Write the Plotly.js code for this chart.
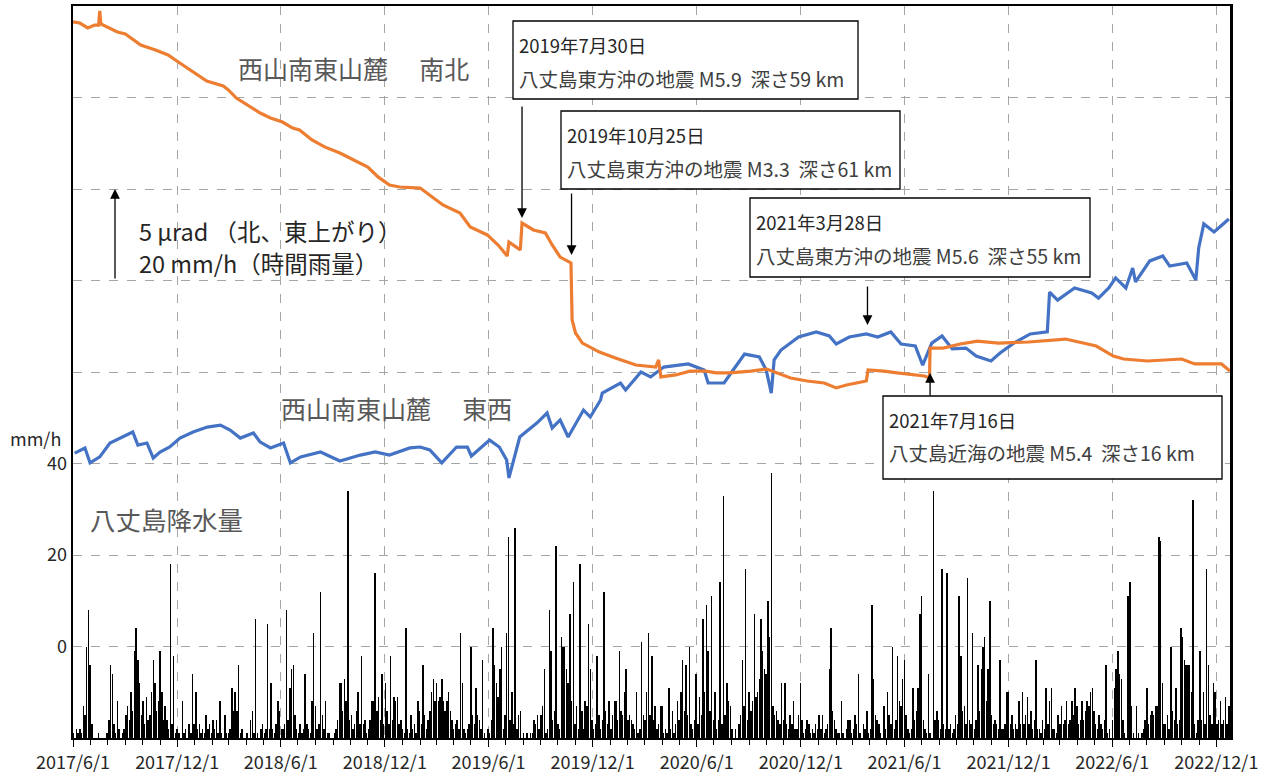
<!DOCTYPE html>
<html>
<head>
<meta charset="utf-8">
<script src="https://cdn.plot.ly/plotly-3.0.1.min.js"></script>
<style>
html,body{margin:0;padding:0;background:#fff;}
#chart{width:1268px;height:778px;}
</style>
</head>
<body>
<div id="chart"></div>
<script>
// ---- Tilt, NS component (µrad, relative) ----
const nsDates = ['2017-06-01','2017-06-13','2017-06-27','2017-07-09','2017-07-16','2017-07-18','2017-07-20','2017-08-18','2017-09-01','2017-09-28','2017-10-24','2017-11-15','2017-12-03','2017-12-25','2018-01-22','2018-02-20','2018-03-01','2018-03-15','2018-04-08','2018-04-26','2018-05-14','2018-06-04','2018-06-22','2018-07-04','2018-07-26','2018-08-17','2018-09-13','2018-10-09','2018-11-01','2018-11-19','2018-12-09','2018-12-27','2019-02-01','2019-03-13','2019-04-12','2019-04-30','2019-05-30','2019-06-18','2019-07-04','2019-07-07','2019-07-27','2019-07-30','2019-08-19','2019-09-09','2019-09-21','2019-10-05','2019-10-24','2019-10-26','2019-11-01','2019-11-13','2019-12-13','2020-01-10','2020-02-15','2020-03-21','2020-03-26','2020-03-30','2020-04-25','2020-05-20','2020-06-17','2020-07-05','2020-07-29','2020-09-04','2020-10-02','2020-11-13','2020-12-12','2021-01-11','2021-02-01','2021-02-19','2021-03-26','2021-03-29','2021-04-26','2021-05-19','2021-07-06','2021-07-15','2021-07-16','2021-08-08','2021-09-07','2021-10-07','2021-11-13','2022-01-05','2022-03-11','2022-05-04','2022-06-03','2022-06-21','2022-08-02','2022-10-01','2022-10-24','2022-12-10','2022-12-25'];
const nsTilt = [39.13,39.07,38.80,38.96,38.96,39.73,39.02,38.58,38.47,37.87,37.60,37.32,36.94,36.50,35.90,35.63,35.41,34.97,34.48,34.15,33.88,33.66,33.33,33.22,32.68,32.30,31.97,31.58,31.20,30.66,30.22,30.11,30.05,29.13,28.69,27.92,27.49,26.94,26.34,27.10,26.67,28.14,27.76,27.60,26.94,26.28,25.96,22.84,22.13,21.58,21.09,20.77,20.38,20.27,20.66,19.73,19.84,20.05,20.05,19.95,19.95,20.05,20.16,19.67,19.51,19.40,19.13,19.29,19.51,20.11,20.05,19.95,19.78,19.67,21.31,21.31,21.53,21.69,21.58,21.64,21.80,21.42,20.87,20.71,20.60,20.71,20.44,20.44,20.05];

// ---- Tilt, EW component (µrad, relative) ----
const ewDates = ['2017-06-04','2017-06-22','2017-07-01','2017-07-18','2017-08-05','2017-08-23','2017-09-14','2017-09-23','2017-10-09','2017-10-20','2017-11-01','2017-11-18','2017-12-06','2017-12-29','2018-01-23','2018-02-15','2018-03-04','2018-03-22','2018-04-14','2018-04-26','2018-05-14','2018-06-06','2018-06-18','2018-07-06','2018-08-10','2018-09-13','2018-10-19','2018-11-14','2018-12-09','2019-01-14','2019-02-01','2019-02-18','2019-03-11','2019-04-06','2019-04-25','2019-05-02','2019-06-03','2019-06-20','2019-07-03','2019-07-07','2019-07-14','2019-07-26','2019-08-25','2019-09-12','2019-09-21','2019-10-05','2019-10-19','2019-11-15','2019-11-27','2019-12-15','2019-12-18','2020-01-19','2020-01-28','2020-02-24','2020-03-12','2020-04-04','2020-05-17','2020-06-14','2020-06-21','2020-07-19','2020-08-04','2020-08-24','2020-09-19','2020-10-01','2020-10-10','2020-10-15','2020-10-27','2020-11-27','2020-12-28','2021-01-20','2021-02-01','2021-02-24','2021-03-26','2021-04-15','2021-05-08','2021-05-26','2021-06-20','2021-07-03','2021-07-19','2021-08-06','2021-08-24','2021-09-17','2021-10-05','2021-10-31','2021-11-16','2021-12-10','2022-01-08','2022-02-07','2022-02-11','2022-02-25','2022-03-27','2022-04-26','2022-05-08','2022-05-26','2022-06-07','2022-06-25','2022-07-07','2022-07-12','2022-08-06','2022-08-29','2022-09-10','2022-10-10','2022-10-26','2022-10-31','2022-11-09','2022-11-27','2022-12-09','2022-12-23'];
const ewTilt = [15.57,15.85,15.03,15.36,16.12,16.39,16.72,16.01,16.12,15.30,15.63,15.90,16.39,16.72,16.99,17.10,16.83,16.39,16.67,16.17,15.85,16.12,15.03,15.36,15.63,15.14,15.46,15.63,15.46,15.85,15.90,15.74,15.03,15.90,15.90,15.41,16.28,15.90,15.19,14.21,15.03,16.45,17.21,17.76,16.94,17.38,16.45,17.92,17.54,18.47,18.85,19.40,19.02,20.00,19.73,20.27,20.44,20.11,19.40,19.40,20.11,20.98,20.82,20.11,18.85,20.66,21.20,21.91,22.19,21.97,21.53,21.91,22.08,21.91,22.19,21.53,21.42,20.38,21.58,21.97,21.26,21.31,20.87,20.60,21.04,21.58,22.08,22.19,24.37,23.93,24.59,24.32,24.04,24.59,25.14,24.59,25.68,24.92,26.07,26.34,25.79,25.96,25.03,26.78,28.09,27.65,27.98,28.36];

// ---- Hachijojima hourly rainfall peaks (mm/h), one value per 3-day step from rainStart ----
const rainStart = '2017-06-01';
const rainStepDays = 3;
const rainMm = [
1,0,2,1,2,1,7,5,20,28, 16,3,0,0,0,1,0,0,0,0, 1,4,16,14,3,1,8,2,0,1, 2,5,7,4,10,6,19,24,17,12,
5,8,3,9,4,5,10,17,12,6, 8,19,10,4,7,4,2,38,3,18, 1,2,1,0,8,1,2,0,3,1, 14,3,10,2,3,1,2,1,5,2,
3,1,4,2,4,1,8,1,0,5, 1,1,2,11,6,10,6,16,1,2, 0,0,1,0,4,6,1,26,1,0, 2,3,1,2,25,2,12,2,1,3,
8,6,2,2,3,28,4,11,15,16, 5,2,1,3,1,2,14,3,2,1, 8,23,7,2,3,32,5,2,8,1, 1,0,0,1,2,4,12,12,6,13,
8,54,4,5,2,3,6,10,3,18, 3,4,1,2,4,8,8,36,6,9, 4,14,3,12,6,3,18,4,9,8, 9,3,4,2,1,24,2,1,5,2,
3,1,8,6,3,16,5,2,4,6, 10,13,8,12,8,9,13,8,6,8, 10,6,4,2,3,4,2,23,12,2, 1,2,3,20,5,3,11,5,4,2,
17,1,0,2,1,4,24,16,12,9, 15,20,2,5,23,44,4,10,3,46, 2,5,6,0,1,0,1,0,1,1, 4,3,5,2,5,7,15,1,2,28,
19,4,6,42,3,2,22,20,20,15, 12,27,8,34,3,7,2,38,6,2, 8,7,25,15,4,2,3,18,5,2, 4,32,6,3,8,2,5,8,8,4,
19,6,5,10,15,4,5,4,3,2, 10,1,2,21,5,4,10,23,5,18, 4,7,2,3,7,7,1,2,1,11, 2,6,1,3,8,4,10,17,6,16,
5,20,3,2,4,14,3,9,5,26, 10,29,19,6,31,4,10,2,4,34, 3,53,5,12,8,7,2,0,2,0, 3,5,17,7,37,4,10,6,8,27,
9,10,13,26,19,15,14,30,22,58, 7,5,6,4,3,12,4,12,3,2, 5,3,8,2,2,5,12,4,1,2, 4,3,1,2,1,3,2,5,2,5,
1,2,3,15,24,6,4,2,1,1, 8,1,0,2,4,4,1,2,5,3, 14,1,0,3,2,6,1,2,29,13, 5,4,3,1,0,7,2,10,5,3,
20,2,4,18,8,7,13,17,5,2, 1,2,11,4,6,11,27,31,4,2, 1,14,1,0,54,4,6,4,2,37, 3,2,36,2,3,1,2,5,3,31,
18,6,7,3,35,4,3,23,2,4, 16,6,15,20,22,8,15,30,5,3, 4,3,2,17,2,2,3,10,10,3, 5,2,3,2,8,3,10,3,5,9,
3,6,2,4,17,2,2,1,4,2, 11,3,8,11,2,2,1,5,3,7, 3,4,8,3,4,8,5,11,7,3, 4,8,4,6,8,7,10,11,6,3,
2,5,3,2,4,16,1,2,0,4, 11,15,19,14,13,4,1,0,31,34, 7,1,0,7,1,0,1,2,4,11, 3,5,6,5,7,7,44,43,12,3,
3,5,2,20,6,4,11,3,4,24, 22,17,16,16,16,10,52,3,1,4, 19,4,10,3,37,16,5,3,12,10, 3,4,8,3,4,9,3,7
];

// ---- Axis ticks ----
const xTickDates = ['2017-06-01','2017-12-01','2018-06-01','2018-12-01','2019-06-01','2019-12-01','2020-06-01','2020-12-01','2021-06-01','2021-12-01','2022-06-01','2022-12-01'];
const xTickLabels = ['2017/6/1','2017/12/1','2018/6/1','2018/12/1','2019/6/1','2019/12/1','2020/6/1','2020/12/1','2021/6/1','2021/12/1','2022/6/1','2022/12/1'];
const yTickVals = [-20,0,20,40,60,80,100,120,140];
const yTickLabels = ['','0','20','40','','','','',''];

// ---- Earthquake notes ----
const quakeDates = ['2019-07-30','2019-10-25','2021-03-28','2021-07-16'];
const quakeDateText = ['2019年7月30日','2019年10月25日','2021年3月28日','2021年7月16日'];
const quakeDescText = ['八丈島東方沖の地震 M5.9\u00a0 深さ59 km','八丈島東方沖の地震 M3.3\u00a0 深さ61 km','八丈島東方沖の地震 M5.6\u00a0 深さ55 km','八丈島近海の地震 M5.4\u00a0 深さ16 km'];

// build rain x grid
const t0 = Date.parse(rainStart + 'T00:00:00Z');
const rainX = rainMm.map((_, i) => new Date(t0 + i * rainStepDays * 86400000).toISOString().slice(0, 10));

const FONT = 'Noto Sans CJK JP, sans-serif';
const TXT = '#404040';

// plot area in pixels (for placing boxes)
const L = 73, R = 1230, T = 6, B = 738;
const px = x => (x - L) / (R - L);
const py = y => (B - y) / (B - T);

const traces = [
  {type:'bar', x:rainX, y:rainMm, base:-20, yaxis:'y', width:rainStepDays*0.85*86400000,
   marker:{color:'#000', line:{width:0}}, hoverinfo:'skip', showlegend:false},
  {type:'scatter', mode:'lines', x:ewDates, y:ewTilt, yaxis:'y2',
   line:{color:'#4472C4', width:3.2}, showlegend:false},
  {type:'scatter', mode:'lines', x:nsDates, y:nsTilt, yaxis:'y2',
   line:{color:'#ED7D31', width:3.2}, showlegend:false}
];

// note boxes (pixel geometry)
const boxes = [
  {x0:513, x1:858, y0:21, y1:99},
  {x0:561, x1:900, y0:111, y1:189},
  {x0:750, x1:1090, y0:198, y1:277},
  {x0:883, x1:1222, y0:396, y1:479}
];
// arrow heads (y2 units) and tail offsets (px)
const arrowHeads = [28.42, 26.39, 22.57, 19.95];
const arrowTails = [-113, -63, -40, 24];

const shapes = boxes.map(b => ({type:'rect', xref:'paper', yref:'paper', layer:'above',
  x0:px(b.x0), x1:px(b.x1), y0:py(b.y1), y1:py(b.y0),
  line:{color:'#000', width:1.3}, fillcolor:'#fff'}));

const annotations = [];
boxes.forEach((b, i) => {
  annotations.push({xref:'paper', yref:'paper', x:px(b.x0 + 4), y:py(b.y0 + 24), xanchor:'left', yanchor:'middle',
    text:quakeDateText[i], showarrow:false, font:{family:FONT, size:18.5, color:'#262626'}});
  annotations.push({xref:'paper', yref:'paper', x:px(b.x0 + 4), y:py(b.y0 + 57), xanchor:'left', yanchor:'middle',
    text:quakeDescText[i], showarrow:false, font:{family:FONT, size:19.5, color:TXT}});
  annotations.push({xref:'x', yref:'y2', x:quakeDates[i], y:arrowHeads[i], ax:0, ay:arrowTails[i],
    text:'', showarrow:true, arrowhead:2, arrowsize:1.5, arrowwidth:1.3, arrowcolor:'#000'});
});
// scale arrow (5 µrad / 20 mm/h)
annotations.push({xref:'paper', yref:'y2', x:px(115), y:30, ax:0, ay:91, text:'', showarrow:true,
  arrowhead:2, arrowsize:1.5, arrowwidth:1.3, arrowcolor:'#000'});
annotations.push({xref:'paper', yref:'paper', x:px(137), y:py(231), xanchor:'left', yanchor:'middle',
  text:'5 µrad （北、東上がり）', showarrow:false, font:{family:FONT, size:23.5, color:'#262626'}});
annotations.push({xref:'paper', yref:'paper', x:px(137), y:py(263), xanchor:'left', yanchor:'middle',
  text:'20 mm/h（時間雨量）', showarrow:false, font:{family:FONT, size:23.5, color:'#262626'}});
// series labels
annotations.push({xref:'paper', yref:'paper', x:px(236), y:py(68), xanchor:'left', yanchor:'middle',
  text:'西山南東山麓\u3000\u2005南北', showarrow:false, font:{family:FONT, size:25, color:'#595959'}});
annotations.push({xref:'paper', yref:'paper', x:px(279), y:py(408), xanchor:'left', yanchor:'middle',
  text:'西山南東山麓\u3000\u2005東西', showarrow:false, font:{family:FONT, size:25, color:'#595959'}});
annotations.push({xref:'paper', yref:'paper', x:px(88), y:py(518), xanchor:'left', yanchor:'middle',
  text:'八丈島降水量', showarrow:false, font:{family:FONT, size:25.5, color:'#595959'}});
annotations.push({xref:'paper', yref:'paper', x:px(63), y:py(438), xanchor:'right', yanchor:'middle',
  text:'mm/h', showarrow:false, font:{family:FONT, size:18, color:'#262626'}});

const layout = {
  width:1268, height:778,
  margin:{l:L, r:1268-R, t:T, b:778-B, pad:0},
  paper_bgcolor:'#fff', plot_bgcolor:'#fff',
  showlegend:false, bargap:0,
  font:{family:FONT, size:18, color:'#262626'},
  xaxis:{type:'date', range:['2017-06-01','2022-12-25'],
    tickmode:'array', tickvals:xTickDates, ticktext:xTickLabels,
    ticks:'outside', ticklen:7, tickcolor:'#000', tickwidth:1,
    tickfont:{family:FONT, size:18, color:'#262626'},
    showgrid:true, gridcolor:'#a6a6a6', griddash:'dash', gridwidth:1,
    minor:{ticks:'outside', ticklen:5, tickcolor:'#000', dtick:'M1', tick0:'2017-06-01', showgrid:false},
    showline:true, linecolor:'#000', linewidth:2, mirror:true, zeroline:false, fixedrange:true},
  yaxis:{range:[-20,140], tickmode:'array', tickvals:yTickVals, ticktext:yTickLabels,
    ticks:'', tickfont:{family:FONT, size:18, color:'#262626'},
    showgrid:true, gridcolor:'#a6a6a6', griddash:'dash', gridwidth:1,
    showline:true, linecolor:'#000', linewidth:2.5, mirror:true, zeroline:false, fixedrange:true},
  yaxis2:{overlaying:'y', range:[0,40], visible:false, showgrid:false, zeroline:false, fixedrange:true},
  shapes:shapes,
  annotations:annotations
};

Plotly.newPlot('chart', traces, layout, {staticPlot:true, displayModeBar:false});
</script>
</body>
</html>
